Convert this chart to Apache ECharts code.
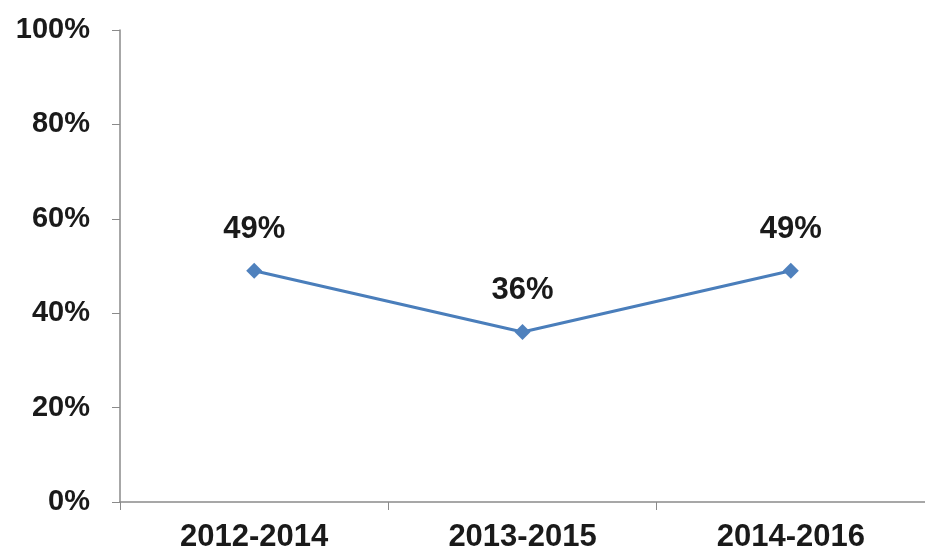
<!DOCTYPE html>
<html>
<head>
<meta charset="utf-8">
<script src="https://cdn.jsdelivr.net/npm/echarts@6/dist/echarts.min.js"></script>
<style>html,body{margin:0;padding:0;background:#fff}#c{width:925px;height:553px}</style>
</head>
<body>
<div id="c"></div>
<script>
const categories = ['2012-2014', '2013-2015', '2014-2016'];
const values = [49, 36, 49];
const yTicks = [0, 20, 40, 60, 80, 100];

const chart = echarts.init(document.getElementById('c'), null, {renderer: 'canvas'});
const font = '"Liberation Sans", Arial, sans-serif';
chart.setOption({
  animation: false,
  backgroundColor: '#ffffff',
  grid: {left: 120, right: 0, top: 30, bottom: 51, containLabel: false},
  xAxis: {
    type: 'category',
    data: categories,
    boundaryGap: true,
    axisLine: {lineStyle: {color: '#8a8a8a', width: 1.5}},
    axisTick: {show: true, length: 8, lineStyle: {color: '#8a8a8a'}},
    axisLabel: {color: '#1a1a1a', fontFamily: font, fontWeight: 'bold', fontSize: 31, margin: 20}
  },
  yAxis: {
    type: 'value',
    min: yTicks[0], max: yTicks[yTicks.length - 1], interval: 20,
    axisLine: {show: true, lineStyle: {color: '#8a8a8a', width: 1.5}},
    axisTick: {show: true, length: 8, lineStyle: {color: '#8a8a8a'}},
    splitLine: {show: false},
    axisLabel: {color: '#1a1a1a', fontFamily: font, fontWeight: 'bold', fontSize: 29, margin: 30,
      formatter: v => v + '%'}
  },
  series: [{
    type: 'line',
    data: values,
    symbol: 'diamond',
    symbolSize: 16,
    lineStyle: {color: '#4a7ebb', width: 3},
    itemStyle: {color: '#4f81bd'},
    label: {show: true, position: 'top', distance: 18, color: '#1a1a1a', fontFamily: font,
      fontWeight: 'bold', fontSize: 31, formatter: p => p.value + '%'}
  }]
});
</script>
</body>
</html>
